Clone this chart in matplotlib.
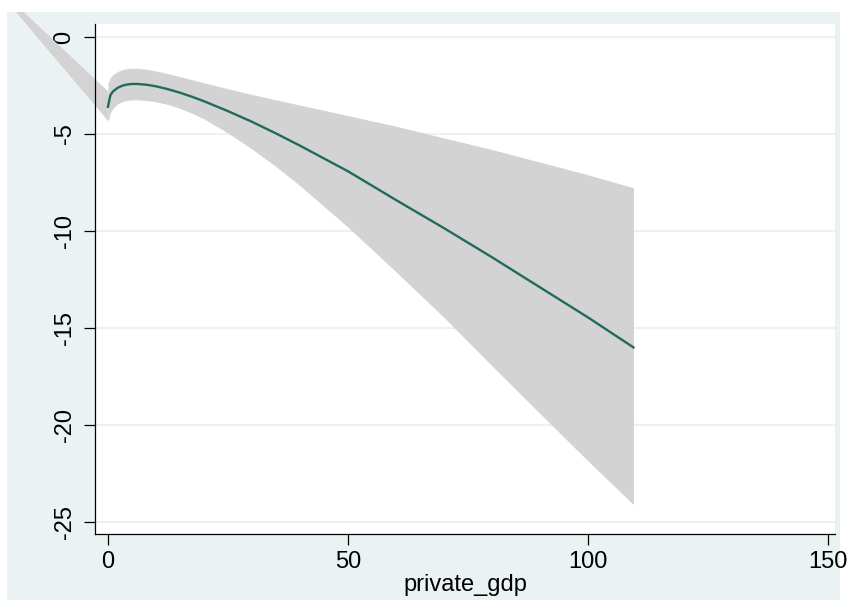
import matplotlib
matplotlib.use("Agg")
import matplotlib.pyplot as plt
from matplotlib.patches import Rectangle

# predicted values with 95% CI
x = [0, 0.5, 1, 2, 3, 4, 5, 6, 8, 10, 12.5, 15, 17.5, 20, 25, 30, 35, 40, 50, 60, 70, 80, 90, 100, 109.5]
fit = [-3.60, -3.00, -2.82, -2.62, -2.51, -2.45, -2.42, -2.42, -2.46, -2.54, -2.69, -2.87, -3.08,
       -3.31, -3.82, -4.37, -4.97, -5.60, -6.92, -8.40, -9.85, -11.35, -12.90, -14.45, -16.00]
upper = [-2.40, -2.10, -1.95, -1.78, -1.68, -1.63, -1.61, -1.61, -1.66, -1.75, -1.89, -2.04, -2.20,
         -2.36, -2.67, -2.96, -3.24, -3.51, -4.05, -4.60, -5.20, -5.80, -6.45, -7.10, -7.77]
lower = [-4.40, -3.90, -3.70, -3.45, -3.33, -3.27, -3.24, -3.24, -3.27, -3.34, -3.48, -3.68, -3.93,
         -4.22, -4.95, -5.77, -6.68, -7.66, -9.80, -12.10, -14.45, -16.95, -19.40, -21.85, -24.10]

# stray piece of the band that runs off to the upper left
wedge_x = [-25, 0]
wedge_upper = [3.02, -2.80]
wedge_lower = [2.98, -4.32]

yticks = [0, -5, -10, -15, -20, -25]
xticks = [0, 50, 100, 150]

band_col = "#d3d3d3"
line_col = "#1f6b5e"
bg_col = "#eaf2f3"

plt.rcParams["font.family"] = ["Liberation Sans", "DejaVu Sans"]
plt.rcParams["axes.unicode_minus"] = False

fig = plt.figure(figsize=(8.47, 6.05), dpi=100, facecolor="white")
bg = Rectangle((7 / 847, 1 - 600 / 605), 833 / 847, 588 / 605, transform=fig.transFigure,
               facecolor=bg_col, edgecolor="none", zorder=-1)
fig.patches.append(bg)

ax = fig.add_axes([95 / 847, 1 - 534 / 605, 740 / 847, 510 / 605])
ax.set_facecolor("white")

w = ax.fill_between(wedge_x, wedge_lower, wedge_upper, color=band_col, lw=0, zorder=2)
w.set_clip_path(bg)
ax.fill_between(x, lower, upper, color=band_col, lw=0, zorder=2)
ax.plot(x, fit, color=line_col, lw=1.7, zorder=3)

ax.set_xlim(-2.7, 151.5)
ax.set_ylim(-25.62, 0.67)
ax.set_xticks(xticks)
ax.set_yticks(yticks)
ax.yaxis.grid(True, color=bg_col, lw=1.5)
ax.set_axisbelow(True)

for s in ["top", "right"]:
    ax.spines[s].set_visible(False)
for s in ["left", "bottom"]:
    ax.spines[s].set_linewidth(0.9)

ax.tick_params(axis="both", labelsize=17, length=8, width=0.9)
ax.tick_params(axis="y", labelrotation=90, pad=6)
ax.tick_params(axis="x", pad=4)
for t in ax.get_yticklabels():
    t.set_va("center")
ax.set_xlabel("private_gdp", fontsize=17, labelpad=1)

fig.savefig("out.png", dpi=100, facecolor="white")
